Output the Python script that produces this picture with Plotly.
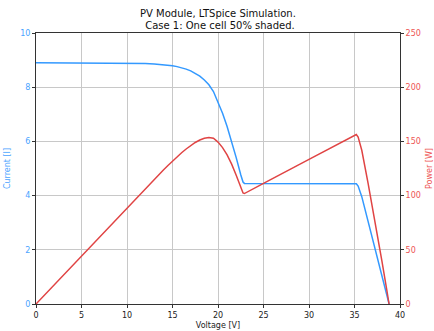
import plotly.graph_objects as go

voltage = [0, 5, 10, 11, 12, 13, 13.5, 14, 14.5, 15, 15.5, 16, 16.5, 17, 17.5, 18,
           18.5, 19, 19.5, 20, 20.5, 21, 21.5, 22, 22.5, 22.75, 22.9, 23.2,
           25, 30, 35, 35.2, 35.4, 35.6, 35.8, 36.5, 37, 37.5, 38, 38.5, 38.8]
current = [8.9, 8.9, 8.89, 8.885, 8.875, 8.86, 8.848, 8.833, 8.814, 8.79, 8.759, 8.719,
           8.667, 8.601, 8.516, 8.407, 8.267, 8.09, 7.84, 7.47, 7.04, 6.55, 6.0, 5.4,
           4.77, 4.5, 4.45, 4.45, 4.45, 4.45, 4.45, 4.44, 4.35, 4.18, 3.96, 3.04,
           2.38, 1.72, 1.06, 0.4, 0]
power = [0, 44.5, 88.9, 97.7, 106.5, 115.2, 119.4, 123.7, 127.8, 131.9, 135.8, 139.5,
         143.0, 146.2, 149.0, 151.3, 152.9, 153.7, 152.9, 149.4, 144.3, 137.6, 129.0,
         118.8, 107.3, 102.4, 101.9, 103.2, 111.3, 133.5, 155.8, 156.3, 154.0, 148.8,
         141.8, 111.0, 88.1, 64.5, 40.3, 15.4, 0]

title_lines = ["PV Module, LTSpice Simulation.", " Case 1: One cell 50% shaded."]

BLUE = "#3399FF"
RED = "#E04444"
BLUE_T = "#4AA3FF"
RED_T = "#EE5555"
FONT = "DejaVu Sans"

fig = go.Figure()
fig.add_trace(go.Scatter(x=voltage, y=current, mode="lines",
                         line=dict(color=BLUE, width=1.5), yaxis="y", showlegend=False))
fig.add_trace(go.Scatter(x=voltage, y=power, mode="lines",
                         line=dict(color=RED, width=1.5), yaxis="y2", showlegend=False))

for txt, shift in zip(title_lines, [20, 8]):
    fig.add_annotation(text=txt, x=0.5, xref="paper", y=1, yref="paper",
                       yanchor="middle", xanchor="center", yshift=shift, showarrow=False,
                       font=dict(size=10, family=FONT, color="#111"))

fig.update_layout(
    width=434, height=331,
    margin=dict(l=36, r=34, t=33, b=27),
    paper_bgcolor="white", plot_bgcolor="white",
    font=dict(family=FONT, size=8, color="#222"),
    xaxis=dict(range=[0, 40], dtick=5, showgrid=True, gridcolor="#c8c8c8", gridwidth=1,
               showline=True, linecolor="#333", linewidth=1, mirror=True,
               ticks="outside", ticklen=3, tickcolor="#333", zeroline=False,
               automargin=False,
               title=dict(text="Voltage [V]", standoff=3, font=dict(size=8)),
               tickfont=dict(size=8)),
    yaxis=dict(range=[0, 10], dtick=2, showgrid=True, gridcolor="#c8c8c8", gridwidth=1,
               showline=True, linecolor="#333", linewidth=1,
               ticks="outside", ticklen=3, tickcolor="#333", zeroline=False,
               automargin=False,
               tickfont=dict(size=8, color=BLUE_T),
               title=dict(text="Current [I]", standoff=8, font=dict(size=8, color=BLUE_T))),
    yaxis2=dict(range=[0, 250], dtick=50, overlaying="y", side="right", showgrid=False,
                showline=True, linecolor="#333", linewidth=1,
                ticks="outside", ticklen=3, tickcolor="#333", zeroline=False,
                automargin=False,
                tickfont=dict(size=8, color=RED_T),
                title=dict(text="Power [W]", standoff=8, font=dict(size=8, color=RED_T))),
)

fig.write_html("out.html")
